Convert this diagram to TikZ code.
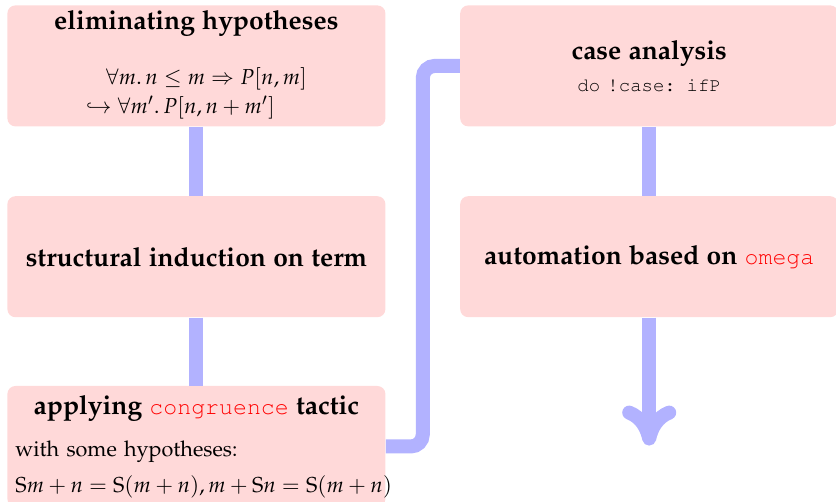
\documentclass[12pt,tikz,border=0pt]{standalone}
\usepackage[T1]{fontenc}
\usepackage{mathpazo}
\usetikzlibrary{positioning,calc,arrows.meta}

% smaller courier for tactic names
\DeclareFontFamily{T1}{pcr}{\hyphenchar\font=-1}
\DeclareFontShape{T1}{pcr}{m}{n}{<-> s*[0.88] pcrr8t}{}
\DeclareFontShape{T1}{pcr}{bx}{n}{<-> ssub * pcr/m/n}{}
\renewcommand{\ttdefault}{pcr}

\newcommand{\tac}[1]{\textcolor{red}{\texttt{#1}}}
\newcommand{\hd}{\fontsize{13.2pt}{16pt}\selectfont\bfseries}

\begin{document}
\begin{tikzpicture}[x=1pt, y=1pt,
  box/.style = {shape=rectangle, rounded corners=4pt, fill=red!15,
    text width=181pt, inner xsep=4pt, minimum height=60.5pt, align=center,
    font=\fontsize{10.8pt}{14.5pt}\selectfont},
  link/.style = {draw=blue!30, line width=7pt}]

\useasboundingbox (0,0) rectangle (418,251);

% left column
\node[box, inner ysep=2pt, anchor=north west] (elim) at (3.5,248.5) {%
  {\hd eliminating hypotheses}\\[13pt]
  \begin{tabular}[t]{@{}l@{}}
    \hspace{10pt}$\forall m.\,n\le m\Rightarrow P[n,m]$\\
    $\hookrightarrow\forall m'.\,P[n,n+m']$
  \end{tabular}};
\node[box, below=34.5pt of elim] (induct) {\hd structural induction on term};
\node[box, below=34pt of induct, align=left] (congr) {%
  {\centering\hd applying \tac{congruence} tactic\par}
  \vspace{6.5pt}
  with some hypotheses:\\[3.5pt]
  \mbox{$\mathrm{S}m+n=\mathrm{S}(m+n),m+\mathrm{S}n=\mathrm{S}(m+n)$}};

% right column
\node[box, right=37pt of elim] (cases) {%
  {\hd case analysis}\\[1.5pt]
  \texttt{do !case: ifP}};
\node[box, below=34.5pt of cases] (omega) {\hd automation based on \tac{omega}};
\coordinate[below=64pt of omega] (stop);

% connectors
\draw[link] (elim) -- (induct);
\draw[link] (induct) -- (congr);
\draw[link, rounded corners=6pt] (congr.east) -| ($(congr.east)!0.5!(cases.west)$) |- (cases.west);
\draw[link] (cases) -- (omega);
\draw[link, -{To[length=20pt, width=27pt]}] (omega) -- (stop);
\end{tikzpicture}
\end{document}
